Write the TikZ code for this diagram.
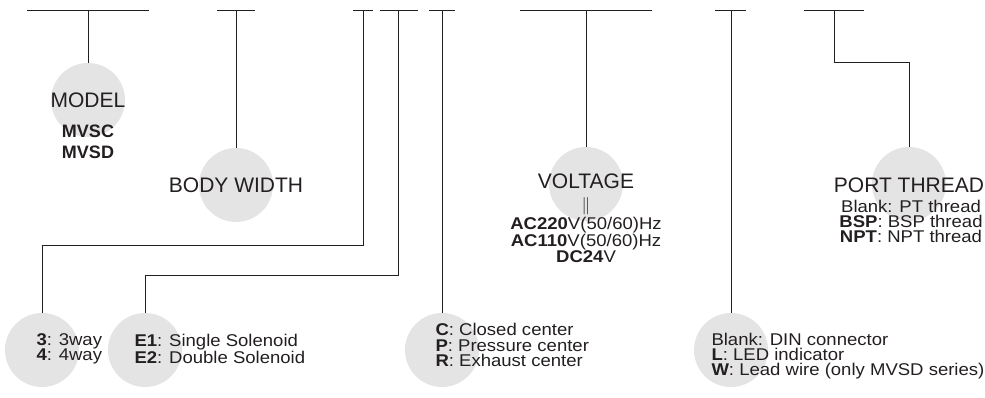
\documentclass[tikz,border=0pt]{standalone}
\usepackage{fontspec}
\setmainfont{Liberation Sans}
\newfontfamily\widefont[FakeStretch=1.09]{Liberation Sans}
\usepackage{tikz}
\usetikzlibrary{positioning}
\definecolor{ink}{HTML}{231F20}
\definecolor{disc}{HTML}{E4E4E4}

\begin{document}
\begin{tikzpicture}[x=1pt,y=-1pt,color=ink,line width=1pt,font=\fontsize{21}{24}\selectfont]
            \tikzstyle{disc node}=[circle,fill=disc,minimum size=74pt,inner sep=0]
            \tikzstyle{plain node}=[inner sep=0]
            \tikzstyle{list node}=[inner sep=0,anchor=west,align=left,font=\widefont\fontsize{17}{15.3}\selectfont]
            \tikzstyle{sub node}=[inner sep=0,align=center,font=\widefont\fontsize{17}{15}\selectfont]
            \useasboundingbox (0,0) rectangle (985,397);
            % discs
            \node[disc node] (d1) at (88,100) {};
            \node[disc node] (d2) at (236,185) {};
            \node[disc node] (d3) at (42,350) {};
            \node[disc node] (d4) at (145,350) {};
            \node[disc node] (d5) at (442,350) {};
            \node[disc node] (d6) at (586,184) {};
            \node[disc node] (d7) at (731,350) {};
            \node[disc node] (d8) at (909,184) {};
            % top bars
            \coordinate (t1l) at (27,10);  \coordinate (t1) at (88,10);  \coordinate (t1r) at (149,10);
            \coordinate (t2l) at (217,10); \coordinate (t2) at (236,10); \coordinate (t2r) at (255,10);
            \coordinate (t3l) at (353,10); \coordinate (t3) at (363,10); \coordinate (t3r) at (373,10);
            \coordinate (t4l) at (380,10); \coordinate (t4) at (398,10); \coordinate (t4r) at (418,10);
            \coordinate (t5l) at (429,10); \coordinate (t5) at (442,10); \coordinate (t5r) at (455,10);
            \coordinate (t6l) at (520,10); \coordinate (t6) at (586,10); \coordinate (t6r) at (652,10);
            \coordinate (t7l) at (715,10); \coordinate (t7) at (731,10); \coordinate (t7r) at (746,10);
            \coordinate (t8l) at (804,10); \coordinate (t8) at (834,10); \coordinate (t8r) at (864,10);
            \draw (t1l) -- (t1r);
            \draw (t2l) -- (t2r);
            \draw (t3l) -- (t3r);
            \draw (t4l) -- (t4r);
            \draw (t5l) -- (t5r);
            \draw (t6l) -- (t6r);
            \draw (t7l) -- (t7r);
            \draw (t8l) -- (t8r);
            % stems
            \draw (t1) -- (d1.north);
            \draw (t2) -- (d2.north);
            \draw (t3) -- ++(0,235) -| (d3.north);
            \draw (t4) -- ++(0,265) -| (d4.north);
            \draw (t5) -- (d5.north);
            \draw (t6) -- (d6.north);
            \draw (t7) -- (d7.north);
            \draw (t8) -- ++(0,52) -| (d8.north);
            % labels
            \node[plain node] (l1) at (88,100) {MODEL};
            \node[plain node,align=center,font=\bfseries\fontsize{18}{21}\selectfont] (s1) at (88,142) {MVSC\\MVSD};
            \node[plain node] (l2) at (236,185) {BODY WIDTH};
            \node[list node] (s3) at (36,349) {\textbf{3}: 3way\\\textbf{4}: 4way};
            \node[list node] (s4) at (134,349) {\textbf{E1}: Single Solenoid\\\textbf{E2}: Double Solenoid};
            \node[list node] (s5) at (435,345) {\textbf{C}: Closed center\\\textbf{P}: Pressure center\\\textbf{R}: Exhaust center};
            \node[plain node] (l6) at (586,181) {VOLTAGE};
            \node[sub node] (v6) at (586,206) {$\|$};
            \node[sub node] (s6) at (586,240) {\textbf{AC220}V(50/60)Hz\\\textbf{AC110}V(50/60)Hz\\\textbf{DC24}V};
            \node[list node] (s7) at (711,356) {Blank: DIN connector\\\textbf{L}: LED indicator\\\textbf{W}: Lead wire (only MVSD series)};
            \node[plain node] (l8) at (909,185) {PORT THREAD};
            \node[sub node] (s8) at (911,221) {Blank: PT thread\\\textbf{BSP}: BSP thread\\\textbf{NPT}: NPT thread};
          \end{tikzpicture}
\end{document}
